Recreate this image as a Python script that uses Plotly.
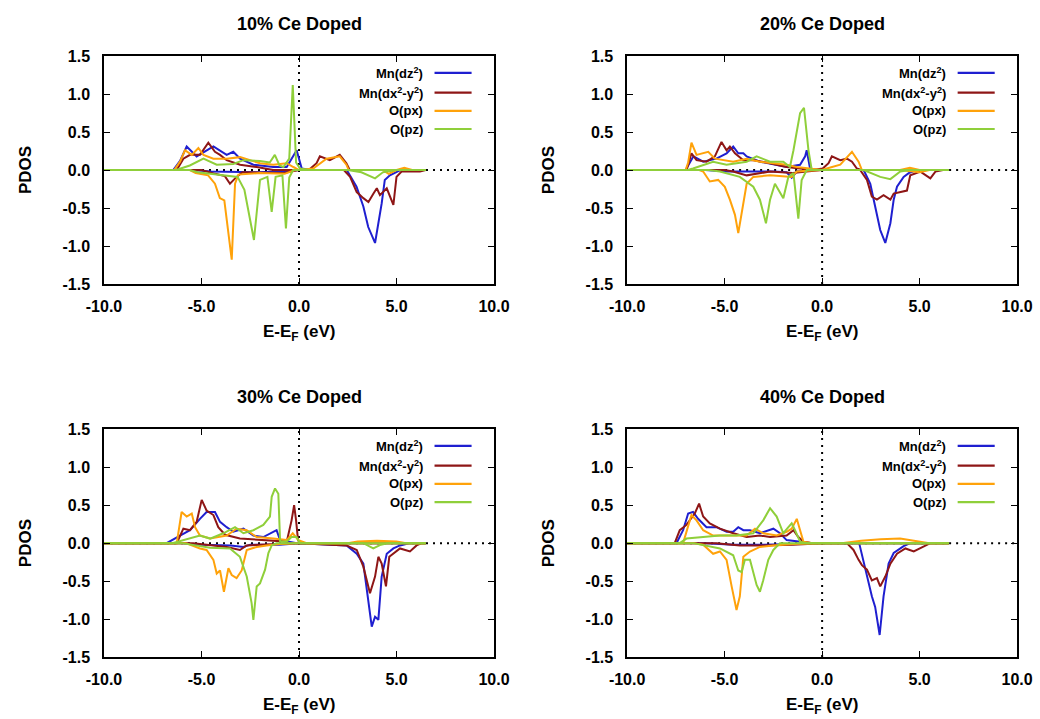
import plotly.graph_objects as go

# ---------------- labels / categories ----------------
panel_titles = ["10% Ce Doped", "20% Ce Doped", "30% Ce Doped", "40% Ce Doped"]
series_names = ["Mn(dz<sup>2</sup>)", "Mn(dx<sup>2</sup>-y<sup>2</sup>)", "O(px)", "O(pz)"]
series_colors = ["#1f1fd0", "#8e1616", "#ffa20a", "#8fcf3a"]
x_ticks = [-10, -5, 0, 5, 10]
y_ticks = [-1.5, -1.0, -0.5, 0.0, 0.5, 1.0, 1.5]

# ---------------- data: (E - EF [eV], PDOS) ----------------
# 10% Ce
c10_dz2_up = [(-10,0),(-6.45,0),(-6.1,0.12),(-5.76,0.31),(-5.25,0.18),(-4.74,0.26),(-4.39,0.31),(-3.71,0.2),(-3.37,0.24),(-3.02,0.15),(-2.34,0.07),(-1.32,0.04),(-0.63,0.04),(-0.12,0.26),(0.14,0.02),(0.6,0),(6.5,0)]
c10_dz2_dn = [(-10,0),(-5.5,0),(-4.5,-0.02),(-2.0,-0.03),(-0.5,-0.01),(0,0),(2.45,0),(2.95,-0.22),(3.3,-0.48),(3.55,-0.75),(3.9,-0.96),(4.24,-0.44),(4.4,-0.13),(4.66,-0.07),(5.2,0),(6.5,0)]
c10_dxy_up = [(-10,0),(-6.27,0),(-5.93,0.15),(-5.59,0.2),(-5.08,0.2),(-4.65,0.36),(-4.31,0.24),(-4.05,0.2),(-3.71,0.13),(-3.02,0.07),(-2.17,0.04),(-1.32,0.0),(0.5,0),(0.9,0.09),(1.07,0.18),(1.58,0.13),(2.09,0.2),(2.43,0.09),(2.6,0),(6.5,0)]
c10_dxy_dn = [(-10,0),(-5.0,0),(-4.3,-0.05),(-3.8,-0.08),(-3.54,-0.18),(-3.2,-0.09),(-2.9,-0.03),(-1.5,-0.04),(-0.8,-0.04),(0,0),(2.3,0),(2.62,-0.09),(2.96,-0.29),(3.3,-0.37),(3.56,-0.42),(3.82,-0.31),(3.99,-0.24),(4.15,-0.33),(4.5,-0.24),(4.84,-0.46),(5.0,-0.09),(5.26,-0.02),(5.69,-0.02),(6.2,-0.02),(6.5,0)]
c10_px_up = [(-10,0),(-6.4,0),(-6.1,0.11),(-5.85,0.26),(-5.5,0.2),(-5.16,0.29),(-4.9,0.2),(-4.39,0.15),(-3.71,0.15),(-3.02,0.17),(-2.51,0.13),(-2.0,0.09),(-1.32,0.07),(-0.63,0.09),(-0.29,0.04),(0,0),(0.73,0.02),(1.41,0.15),(2.09,0.18),(2.43,0.07),(2.55,0),(5.0,0),(5.4,0.03),(5.8,0),(6.5,0)]
c10_px_dn = [(-10,0),(-5.6,0),(-5.3,-0.04),(-4.66,-0.07),(-4.31,-0.18),(-4.06,-0.37),(-3.83,-0.4),(-3.45,-1.18),(-3.28,-0.18),(-3.11,-0.06),(-2.0,-0.04),(-0.74,-0.05),(-0.2,0),(4.3,0),(4.6,-0.05),(5.0,0),(6.5,0)]
c10_pz_up = [(-10,0),(-6.3,0),(-5.6,0.06),(-4.9,0.15),(-4.22,0.07),(-3.37,0.08),(-2.85,0.13),(-2.0,0.12),(-1.5,0.1),(-1.24,0.2),(-1.0,0.06),(-0.8,0.04),(-0.5,0.15),(-0.32,1.12),(-0.15,0.1),(0.05,0.02),(0.5,0),(6.5,0)]
c10_pz_dn = [(-10,0),(-5.6,0),(-5.2,-0.03),(-4.2,-0.06),(-3.15,-0.09),(-2.8,-0.26),(-2.31,-0.92),(-2.0,-0.13),(-1.62,-0.09),(-1.4,-0.55),(-1.2,-0.09),(-0.85,-0.07),(-0.67,-0.77),(-0.5,-0.1),(-0.3,0),(2.5,0),(3.2,-0.03),(3.9,-0.11),(4.3,-0.03),(5.0,0),(6.5,0)]

# 20% Ce
c20_dz2_up = [(-10,0),(-7.0,0),(-6.6,0.18),(-6.1,0.11),(-5.42,0.15),(-4.9,0.22),(-4.56,0.31),(-4.3,0.22),(-4.04,0.22),(-3.87,0.18),(-3.19,0.11),(-2.5,0.07),(-1.82,0.04),(-1.13,0.07),(-0.87,0.18),(-0.79,0.26),(-0.62,0.02),(-0.3,0),(6.5,0)]
c20_dz2_dn = [(-10,0),(-6,0),(-4.9,-0.02),(-2.5,-0.02),(-1.82,-0.03),(-1.56,-0.1),(-1.3,-0.02),(-0.5,0),(2.13,0),(2.47,-0.18),(2.72,-0.48),(2.98,-0.79),(3.24,-0.96),(3.5,-0.7),(3.67,-0.39),(3.84,-0.22),(4.18,-0.09),(4.44,-0.04),(4.87,0),(6.5,0)]
c20_dxy_up = [(-10,0),(-6.95,0),(-6.7,0.22),(-6.44,0.13),(-5.93,0.11),(-5.5,0.18),(-5.16,0.37),(-4.9,0.26),(-4.73,0.31),(-4.47,0.22),(-4.04,0.13),(-3.53,0.13),(-2.67,0.09),(-1.82,0.04),(-1.13,0.02),(-0.5,0),(0.03,0.02),(0.33,0.09),(0.5,0.18),(0.93,0.13),(1.27,0.15),(1.53,0.11),(1.78,0.02),(2.0,0),(6.5,0)]
c20_dxy_dn = [(-10,0),(-5,0),(-4.56,-0.02),(-3.87,-0.07),(-2.67,-0.02),(-1.5,-0.04),(-0.8,-0.02),(0,0),(1.95,0),(2.3,-0.13),(2.55,-0.35),(2.81,-0.39),(3.15,-0.33),(3.5,-0.39),(3.67,-0.31),(4.01,-0.29),(4.35,-0.27),(4.52,-0.07),(5.04,-0.02),(5.55,-0.11),(5.81,-0.02),(6.2,0),(6.5,0)]
c20_px_up = [(-10,0),(-7.0,0),(-6.87,0.1),(-6.7,0.36),(-6.44,0.2),(-5.84,0.24),(-5.5,0.15),(-4.9,0.13),(-4.56,0.11),(-3.87,0.15),(-3.19,0.11),(-2.5,0.09),(-1.82,0.07),(-1.3,0.04),(-0.5,0.02),(0,0),(0.24,0.02),(0.93,0.07),(1.53,0.24),(1.87,0.11),(2.04,0),(4.0,0),(4.5,0.03),(5.0,0),(6.5,0)]
c20_px_dn = [(-10,0),(-6.3,0),(-6.1,-0.02),(-5.76,-0.15),(-5.33,-0.13),(-4.99,-0.22),(-4.73,-0.39),(-4.47,-0.59),(-4.3,-0.83),(-4.13,-0.57),(-3.87,-0.18),(-3.53,-0.09),(-2.67,-0.07),(-1.56,-0.09),(-1.3,-0.02),(-0.79,-0.01),(0,0),(4.0,0),(5.0,-0.03),(5.5,0),(6.5,0)]
c20_pz_up = [(-10,0),(-6.9,0),(-6.62,0.02),(-5.59,0.11),(-4.9,0.07),(-3.87,0.11),(-3.36,0.18),(-2.67,0.11),(-1.99,0.11),(-1.65,0.04),(-1.47,0.26),(-1.13,0.75),(-0.93,0.82),(-0.7,0.26),(-0.53,0),(6.5,0)]
c20_pz_dn = [(-10,0),(-5.8,0),(-5.24,-0.02),(-4.22,-0.09),(-3.53,-0.22),(-3.19,-0.39),(-2.88,-0.7),(-2.67,-0.39),(-2.42,-0.18),(-1.99,-0.37),(-1.73,-0.09),(-1.47,-0.04),(-1.22,-0.64),(-1.05,-0.13),(-0.79,0),(2.13,0),(2.98,-0.09),(3.5,-0.12),(4.01,-0.02),(4.5,0),(6.5,0)]

# 30% Ce
c30_dz2_up = [(-10,0),(-6.79,0),(-6.1,0.1),(-5.59,0.17),(-5.08,0.32),(-4.74,0.41),(-4.31,0.41),(-4.05,0.28),(-3.71,0.21),(-3.37,0.15),(-2.85,0.19),(-2.34,0.1),(-1.83,0.08),(-1.32,0.15),(-1.15,0.17),(-0.97,0.04),(-0.63,0.02),(-0.12,0),(6.5,0)]
c30_dz2_dn = [(-10,0),(-6,0),(-5,-0.02),(-3.5,-0.03),(-2.85,-0.05),(-2.5,-0.02),(-1,-0.02),(0,0),(2.44,-0.03),(2.96,-0.14),(3.3,-0.27),(3.56,-0.75),(3.73,-1.1),(3.9,-0.97),(4.07,-1.01),(4.24,-0.44),(4.5,-0.14),(4.84,-0.07),(5.18,-0.03),(5.7,0),(6.5,0)]
c30_dxy_up = [(-10,0),(-6.27,0),(-5.93,0.19),(-5.59,0.17),(-5.25,0.28),(-4.99,0.57),(-4.74,0.43),(-4.39,0.37),(-4.14,0.21),(-3.79,0.11),(-3.03,0.06),(-2.0,0.04),(-0.63,0.02),(-0.38,0.3),(-0.25,0.5),(-0.15,0.3),(-0.05,0.04),(0.05,0),(6.5,0)]
c30_dxy_dn = [(-10,0),(-5.42,0),(-3.71,-0.05),(-3.03,-0.09),(-2.68,-0.03),(-1.5,-0.02),(0,0),(2.44,-0.03),(2.96,-0.09),(3.3,-0.31),(3.64,-0.66),(3.9,-0.44),(4.07,-0.18),(4.24,-0.27),(4.46,-0.57),(4.63,-0.18),(5.18,-0.07),(5.69,-0.11),(6.03,-0.03),(6.29,0),(6.5,0)]
c30_px_up = [(-10,0),(-6.27,0),(-6.02,0.41),(-5.76,0.35),(-5.5,0.39),(-5.33,0.21),(-5.08,0.1),(-4.56,0.06),(-3.71,0.1),(-3.2,0.19),(-2.68,0.17),(-2.17,0.08),(-1.32,0.06),(-0.63,0.04),(-0.32,0.13),(-0.03,0.04),(0.39,0),(2.5,0),(3.0,0.02),(4.0,0.03),(5.0,0.02),(5.5,0),(6.5,0)]
c30_px_dn = [(-10,0),(-5.8,0),(-5.08,-0.07),(-4.74,-0.09),(-4.39,-0.22),(-4.22,-0.4),(-4.05,-0.36),(-3.85,-0.64),(-3.62,-0.33),(-3.45,-0.42),(-3.2,-0.46),(-2.94,-0.36),(-2.68,-0.09),(-2.17,-0.05),(-1.66,-0.03),(-1.0,-0.01),(0,0),(6.5,0)]
c30_pz_up = [(-10,0),(-6.5,0),(-5.08,0.1),(-4.56,0.06),(-3.88,0.13),(-3.28,0.21),(-2.85,0.13),(-2.34,0.17),(-1.83,0.24),(-1.49,0.35),(-1.4,0.61),(-1.23,0.72),(-1.06,0.65),(-0.97,0.02),(-0.63,0.02),(-0.38,0.08),(-0.12,0.08),(0.05,0),(6.5,0)]
c30_pz_dn = [(-10,0),(-6,0),(-4.56,-0.06),(-3.54,-0.07),(-3.03,-0.18),(-2.68,-0.44),(-2.43,-0.79),(-2.34,-1.01),(-2.17,-0.57),(-2.0,-0.53),(-1.74,-0.35),(-1.57,-0.13),(-1.4,-0.03),(-1.15,0),(3.3,0),(3.81,-0.07),(4.2,-0.02),(4.6,0),(6.5,0)]

# 40% Ce
c40_dz2_up = [(-10,0),(-7.47,0),(-7.13,0.17),(-6.87,0.39),(-6.62,0.41),(-6.36,0.32),(-5.93,0.21),(-5.42,0.21),(-4.9,0.15),(-4.56,0.15),(-4.3,0.21),(-4.04,0.17),(-3.7,0.17),(-3.19,0.13),(-2.5,0.19),(-2.16,0.13),(-1.82,0.04),(-1.13,0.02),(-0.5,0),(6.5,0)]
c40_dz2_dn = [(-10,0),(-6,0),(-4.5,-0.02),(-3,-0.02),(-1.5,-0.01),(0,0),(1.9,0),(2.3,-0.44),(2.55,-0.7),(2.72,-0.84),(2.95,-1.21),(3.15,-0.7),(3.41,-0.27),(3.67,-0.13),(4.18,-0.04),(4.52,0),(6.5,0)]
c40_dxy_up = [(-10,0),(-7.56,0),(-7.3,0.17),(-6.96,0.24),(-6.53,0.39),(-6.31,0.52),(-6.1,0.35),(-5.76,0.26),(-5.24,0.19),(-4.56,0.13),(-3.87,0.08),(-3.19,0.1),(-2.67,0.08),(-1.82,0.1),(-1.47,0.17),(-1.22,0.08),(-0.96,0.02),(-0.5,0),(6.5,0)]
c40_dxy_dn = [(-10,0),(-5.42,0),(-4.22,-0.03),(-3.0,-0.03),(-1.5,-0.02),(0,0),(1.27,0),(1.61,-0.09),(1.87,-0.22),(2.04,-0.29),(2.3,-0.35),(2.55,-0.49),(2.81,-0.46),(2.98,-0.57),(3.24,-0.44),(3.5,-0.27),(3.84,-0.14),(4.27,-0.07),(4.7,-0.11),(5.04,-0.07),(5.55,0),(6.5,0)]
c40_px_up = [(-10,0),(-7.13,0),(-6.7,0.37),(-6.44,0.3),(-6.1,0.17),(-5.59,0.1),(-4.9,0.1),(-3.87,0.1),(-3.44,0.19),(-3.02,0.13),(-2.33,0.1),(-1.82,0.15),(-1.56,0.19),(-1.3,0.32),(-1.13,0.17),(-0.96,0.02),(-0.5,0),(1.0,0),(2.0,0.03),(3.0,0.05),(4.0,0.06),(5.0,0.02),(5.5,0),(6.5,0)]
c40_px_dn = [(-10,0),(-6.6,0),(-6.1,-0.02),(-5.59,-0.14),(-5.24,-0.11),(-4.9,-0.22),(-4.64,-0.57),(-4.39,-0.88),(-4.22,-0.7),(-4.04,-0.18),(-3.7,-0.11),(-3.19,-0.05),(-2.5,-0.03),(-1.5,-0.01),(0,0),(6.5,0)]
c40_pz_up = [(-10,0),(-7.3,0),(-6.96,0.06),(-5.93,0.08),(-5.24,0.1),(-4.39,0.1),(-3.53,0.13),(-3.02,0.3),(-2.67,0.46),(-2.33,0.35),(-1.99,0.13),(-1.73,0.21),(-1.56,0.26),(-1.39,0.17),(-1.13,0.02),(-0.8,0),(6.5,0)]
c40_pz_dn = [(-10,0),(-6.6,0),(-5.24,-0.07),(-4.56,-0.16),(-4.3,-0.36),(-4.13,-0.38),(-3.96,-0.22),(-3.7,-0.22),(-3.36,-0.55),(-3.19,-0.64),(-3.02,-0.49),(-2.76,-0.22),(-2.5,-0.09),(-2.16,0),(6.5,0)]

panel_data = [
    [(c10_dz2_up, c10_dz2_dn), (c10_dxy_up, c10_dxy_dn), (c10_px_up, c10_px_dn), (c10_pz_up, c10_pz_dn)],
    [(c20_dz2_up, c20_dz2_dn), (c20_dxy_up, c20_dxy_dn), (c20_px_up, c20_px_dn), (c20_pz_up, c20_pz_dn)],
    [(c30_dz2_up, c30_dz2_dn), (c30_dxy_up, c30_dxy_dn), (c30_px_up, c30_px_dn), (c30_pz_up, c30_pz_dn)],
    [(c40_dz2_up, c40_dz2_dn), (c40_dxy_up, c40_dxy_dn), (c40_px_up, c40_px_dn), (c40_pz_up, c40_pz_dn)],
]

# ---------------- layout geometry ----------------
W, H = 1040, 719
x_domains = [[0.100, 0.475], [0.603, 0.978], [0.100, 0.475], [0.603, 0.978]]
y_domains = [[0.605, 0.922], [0.605, 0.922], [0.0862, 0.403], [0.0862, 0.403]]

FONT = "Liberation Sans, Arial, sans-serif"
fig = go.Figure()
shapes = []
annotations = []

for p in range(4):
    xa = "x" if p == 0 else f"x{p+1}"
    ya = "y" if p == 0 else f"y{p+1}"
    # reference dotted lines
    shapes.append(dict(type="line", xref=xa, yref=ya, x0=0, x1=0, y0=-1.5, y1=1.5,
                       line=dict(color="black", width=2, dash="2px,5px"), layer="below"))
    shapes.append(dict(type="line", xref=xa, yref=ya, x0=-10, x1=10, y0=0, y1=0,
                       line=dict(color="black", width=2, dash="2px,5px"), layer="below"))
    for s in range(4):
        up, dn = panel_data[p][s]
        for curve in (dn, up):
            fig.add_trace(go.Scatter(
                x=[q[0] for q in curve], y=[q[1] for q in curve],
                mode="lines", line=dict(color=series_colors[s], width=2),
                xaxis=xa, yaxis=ya, showlegend=False, hoverinfo="skip"))
    # in-plot key (text right, line sample on the right)
    for s in range(4):
        yk = [1.28, 1.02, 0.78, 0.54][s]
        annotations.append(dict(xref=xa, yref=ya, x=6.45, y=yk, text=series_names[s],
                                showarrow=False, xanchor="right", yanchor="middle",
                                font=dict(family=FONT, size=13, color="black", weight="bold")))
        shapes.append(dict(type="line", xref=xa, yref=ya, x0=6.95, x1=8.85, y0=yk, y1=yk,
                           line=dict(color=series_colors[s], width=2.2)))
    # panel title
    xc = (x_domains[p][0] + x_domains[p][1]) / 2
    ytop = y_domains[p][1]
    annotations.append(dict(xref="paper", yref="paper", x=xc, y=ytop + 32 / H, text=panel_titles[p],
                            showarrow=False, xanchor="center", yanchor="middle",
                            font=dict(family=FONT, size=18, color="black", weight="bold")))
    # x title
    annotations.append(dict(xref="paper", yref="paper", x=xc, y=y_domains[p][0] - 49 / H,
                            text="E-E<sub>F</sub> (eV)", showarrow=False, xanchor="center", yanchor="middle",
                            font=dict(family=FONT, size=17, color="black", weight="bold")))
    # y title
    yc = (y_domains[p][0] + y_domains[p][1]) / 2
    annotations.append(dict(xref="paper", yref="paper", x=x_domains[p][0] - 79 / W, y=yc,
                            text="PDOS", showarrow=False, textangle=-90, xanchor="center", yanchor="middle",
                            font=dict(family=FONT, size=17, color="black", weight="bold")))

axis_common = dict(showline=True, linecolor="black", linewidth=1.5, mirror="ticks",
                   ticks="inside", ticklen=6, tickwidth=1.2, tickcolor="black",
                   showgrid=False, zeroline=False, automargin=False,
                   tickfont=dict(family=FONT, size=16, color="black", weight="bold"))

layout_axes = {}
for p in range(4):
    xk = "xaxis" if p == 0 else f"xaxis{p+1}"
    yk = "yaxis" if p == 0 else f"yaxis{p+1}"
    ya = "y" if p == 0 else f"y{p+1}"
    xa = "x" if p == 0 else f"x{p+1}"
    layout_axes[xk] = dict(axis_common, domain=x_domains[p], anchor=ya, range=[-10, 10],
                           tickvals=x_ticks, ticktext=[f"{v:.1f}" for v in x_ticks], ticklabelstandoff=7)
    layout_axes[yk] = dict(axis_common, domain=y_domains[p], anchor=xa, range=[-1.5, 1.5],
                           tickvals=y_ticks, ticktext=[f"{v:.1f}" for v in y_ticks], ticklabelstandoff=9)

fig.update_layout(width=W, height=H, margin=dict(l=0, r=0, t=0, b=0, autoexpand=False),
                  paper_bgcolor="white", plot_bgcolor="white",
                  shapes=shapes, annotations=annotations, showlegend=False, **layout_axes)

fig.write_html("out.html")
